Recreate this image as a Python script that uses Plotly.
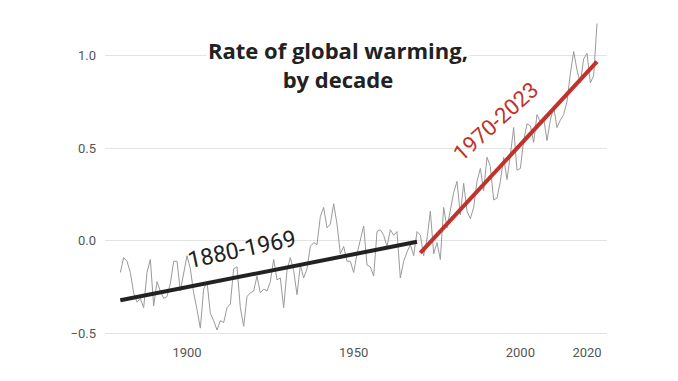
import plotly.graph_objects as go

years = list(range(1880, 2024))
anomaly = [
    -0.17, -0.09, -0.11, -0.17, -0.28, -0.33, -0.31, -0.36, -0.17, -0.10,
    -0.35, -0.22, -0.27, -0.31, -0.30, -0.23, -0.11, -0.11, -0.27, -0.17,
    -0.08, -0.15, -0.28, -0.37, -0.47, -0.26, -0.22, -0.39, -0.43, -0.48,
    -0.43, -0.44, -0.36, -0.34, -0.15, -0.14, -0.36, -0.46, -0.30, -0.28,
    -0.27, -0.19, -0.28, -0.26, -0.27, -0.22, -0.10, -0.21, -0.20, -0.36,
    -0.16, -0.09, -0.16, -0.29, -0.13, -0.20, -0.15, -0.03, -0.01, -0.02,
    0.13, 0.18, 0.07, 0.09, 0.20, 0.09, -0.07, -0.03, -0.11, -0.11,
    -0.17, -0.07, 0.01, 0.08, -0.13, -0.14, -0.19, 0.05, 0.06, 0.03,
    -0.03, 0.06, 0.03, 0.05, -0.20, -0.11, -0.06, -0.02, -0.08, 0.05,
    0.03, -0.08, 0.01, 0.16, -0.07, -0.01, -0.10, 0.18, 0.07, 0.16,
    0.26, 0.32, 0.14, 0.31, 0.16, 0.12, 0.18, 0.32, 0.39, 0.27,
    0.45, 0.40, 0.22, 0.23, 0.32, 0.45, 0.33, 0.46, 0.61, 0.38,
    0.39, 0.54, 0.63, 0.62, 0.53, 0.68, 0.64, 0.66, 0.54, 0.65,
    0.72, 0.61, 0.65, 0.68, 0.75, 0.90, 1.02, 0.92, 0.85, 0.98,
    1.01, 0.85, 0.89, 1.17,
]

early_trend_years = [1880, 1969]
early_trend_values = [-0.32, -0.005]
late_trend_years = [1970, 2023]
late_trend_values = [-0.065, 0.965]

x_ticks = [1900, 1950, 2000, 2020]
y_ticks = [-0.5, 0.0, 0.5, 1.0]
y_tick_labels = ["\u22120.5", "0.0", "0.5", "1.0"]

title_text = "<b>Rate of global warming,<br>by decade</b>"
early_label = "1880-1969"
late_label = "1970-2023"

fig = go.Figure()
fig.add_trace(go.Scatter(x=years, y=anomaly, mode="lines",
                         line=dict(color="#9a9a9a", width=1), hoverinfo="skip"))
fig.add_trace(go.Scatter(x=early_trend_years, y=early_trend_values, mode="lines",
                         line=dict(color="#222222", width=4)))
fig.add_trace(go.Scatter(x=late_trend_years, y=late_trend_values, mode="lines",
                         line=dict(color="#c0322b", width=4)))

fig.add_annotation(x=1945.3, y=1.0, xref="x", yref="y", text=title_text,
                   showarrow=False, align="center", yanchor="middle",
                   yshift=-9, bgcolor="white",
                   font=dict(family="Open Sans", size=22, color="#222222"))
fig.add_annotation(x=1916.6, y=0.0, xref="x", yref="y", text=early_label,
                   showarrow=False, textangle=-12, yshift=-9,
                   font=dict(family="Roboto", size=23, color="#222222"))
fig.add_annotation(x=1992.6, y=0.645, xref="x", yref="y", text=late_label,
                   showarrow=False, textangle=-42,
                   font=dict(family="Roboto", size=22, color="#c0322b"))

fig.update_layout(
    width=678, height=381,
    margin=dict(l=97, r=79, t=10, b=46),
    paper_bgcolor="white", plot_bgcolor="white",
    showlegend=False,
    font=dict(family="Roboto", size=13, color="#555555"),
    xaxis=dict(range=[1875.4, 2026], tickvals=x_ticks, showgrid=False,
               zeroline=False, showline=False, ticks="",
               tickfont=dict(size=13, color="#555555")),
    yaxis=dict(range=[-0.55, 1.2], tickvals=y_ticks, ticktext=y_tick_labels,
               showgrid=True, gridcolor="#e3e3e3", gridwidth=1,
               zeroline=False, showline=False, ticks="", ticklabelstandoff=8,
               tickfont=dict(size=13, color="#555555")),
)

fig.write_html("out.html")
